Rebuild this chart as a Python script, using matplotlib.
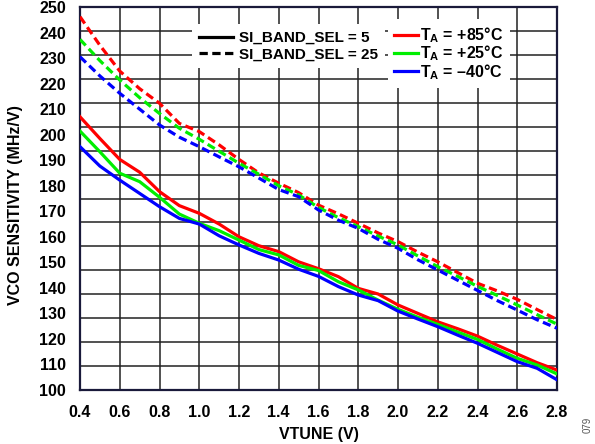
import numpy as np
import matplotlib
matplotlib.use("Agg")
from matplotlib import pyplot as plt
from matplotlib.lines import Line2D

plt.rcParams['font.family'] = ['Liberation Sans', 'DejaVu Sans']
plt.rcParams['font.weight'] = 'bold'
plt.rcParams['axes.labelweight'] = 'bold'
plt.rcParams['mathtext.fontset'] = 'custom'
plt.rcParams['mathtext.bf'] = 'Liberation Sans:bold'
plt.rcParams['mathtext.rm'] = 'Liberation Sans:bold'
plt.rcParams['mathtext.default'] = 'bf'

# tuning voltage (V)
vtune = [0.4, 0.5, 0.6, 0.7, 0.8, 0.9, 1.0, 1.1, 1.2, 1.3, 1.4, 1.5, 1.6,
         1.7, 1.8, 1.9, 2.0, 2.1, 2.2, 2.3, 2.4, 2.5, 2.6, 2.7, 2.8]

# SI_BAND_SEL = 5 (solid)
sel5_85 = [207.0, 198.5, 190.3, 185.3, 177.7, 172.2, 169.2, 165.0, 160.0, 156.5, 154.2, 150.2, 147.5,
           144.4, 139.8, 137.6, 133.3, 130.0, 126.7, 124.0, 121.1, 117.5, 114.1, 110.7, 107.8]
sel5_25 = [201.4, 193.3, 184.9, 181.6, 175.5, 168.9, 165.3, 162.4, 158.7, 155.0, 152.9, 148.8, 146.8,
           142.4, 139.2, 135.2, 131.6, 128.5, 125.7, 122.7, 119.8, 116.0, 112.4, 109.8, 106.3]
sel5_m40 = [195.3, 187.7, 182.2, 177.0, 171.8, 167.2, 165.0, 160.4, 156.8, 153.5, 150.9, 147.3, 144.5,
            140.5, 137.2, 135.0, 130.9, 127.8, 124.8, 121.5, 118.3, 114.7, 111.1, 108.5, 104.0]

# SI_BAND_SEL = 25 (dashed)
sel25_85 = [246.2, 235.0, 224.9, 218.0, 212.3, 204.4, 201.2, 196.0, 190.3, 185.0, 181.0, 177.3, 172.4,
            169.0, 165.3, 161.5, 158.1, 154.0, 150.2, 146.0, 141.8, 138.8, 135.5, 131.5, 127.6]
sel25_25 = [237.3, 229.0, 221.4, 214.5, 208.3, 202.5, 198.2, 193.5, 188.8, 184.5, 180.0, 176.4, 171.5,
            167.5, 164.0, 160.3, 156.8, 152.5, 148.3, 144.5, 140.6, 137.0, 133.3, 129.5, 125.8]
sel25_m40 = [230.5, 223.0, 216.2, 210.0, 203.8, 199.0, 195.3, 191.3, 187.4, 183.0, 178.5, 175.7, 170.5,
             166.5, 163.3, 159.0, 155.5, 151.0, 147.0, 143.0, 139.0, 135.0, 131.3, 127.5, 124.2]

x_ticks = [0.4, 0.6, 0.8, 1.0, 1.2, 1.4, 1.6, 1.8, 2.0, 2.2, 2.4, 2.6, 2.8]
y_ticks = list(range(100, 251, 10))

temp_labels = [r'$\mathbf{T_A}$ = +85°C', r'$\mathbf{T_A}$ = +25°C', r'$\mathbf{T_A}$ = –40°C']
band_labels = ['SI_BAND_SEL = 5', 'SI_BAND_SEL = 25']
colors = ['#ff0000', '#00ee00', '#0000ff']

fig = plt.figure(figsize=(5.95, 4.44), dpi=100)
ax = fig.add_axes([80 / 595, 1 - 390 / 444, 477 / 595, 383 / 444])

lw = 2.3
dash = (2.6, 1.4)
for ys, c in zip([sel25_85, sel25_25, sel25_m40], colors):
    ax.plot(vtune, ys, color=c, lw=lw, dashes=dash, zorder=3)
for ys, c in zip([sel5_85, sel5_25, sel5_m40], colors):
    ax.plot(vtune, ys, color=c, lw=lw, zorder=3)

ax.set_xlim(0.4, 2.8)
ax.set_ylim(100, 250)
ax.set_xticks(x_ticks)
ax.set_xticklabels(['%.1f' % v for v in x_ticks])
ax.set_yticks(y_ticks)
# the grid in the original has 16 rows, not matching the 10 MHz/V labels
ax.set_yticks(np.linspace(100, 250, 17), minor=True)
ax.tick_params(axis='both', which='both', length=0, labelsize=11.5)
ax.tick_params(axis='x', pad=11)
ax.tick_params(axis='y', pad=10)
ax.grid(axis='x', which='major', color='#222222', lw=1.1, zorder=1)
ax.grid(axis='y', which='minor', color='#222222', lw=1.1, zorder=1)
for s in ax.spines.values():
    s.set_color('#1a1a3a')
    s.set_linewidth(1.6)

ax.set_xlabel('VTUNE (V)', fontsize=11.5, fontweight='bold', labelpad=5)
fig.text(16 / 595, 1 - 205 / 444, 'VCO SENSITIVITY (MHz/V)', rotation=90,
         ha='center', va='center', fontsize=11.5, fontweight='bold')
fig.text(588 / 595, 1 - 425 / 444, '079', rotation=90, ha='center', va='center',
         fontsize=7, color='#555555', fontweight='normal')

h_band = [Line2D([], [], color='black', lw=lw),
          Line2D([], [], color='black', lw=lw, dashes=dash)]
leg1 = ax.legend(h_band, band_labels, loc='upper left', bbox_to_anchor=(0.235, 0.955),
                 fontsize=11, frameon=True, framealpha=1, edgecolor='none', fancybox=False,
                 handlelength=2.2, handletextpad=0.4, labelspacing=0.15, borderpad=0.45,
                 borderaxespad=0)
leg1.set_zorder(5)
ax.add_artist(leg1)

h_temp = [Line2D([], [], color=c, lw=lw) for c in colors]
leg2 = ax.legend(h_temp, temp_labels, loc='upper left', bbox_to_anchor=(0.645, 0.968),
                 fontsize=11.5, frameon=True, framealpha=1, edgecolor='none', fancybox=False,
                 handlelength=1.5, handletextpad=0.15, labelspacing=-0.1, borderpad=0.4,
                 borderaxespad=0)
leg2.set_zorder(5)

plt.savefig('out.png', dpi=100)
plt.close()
